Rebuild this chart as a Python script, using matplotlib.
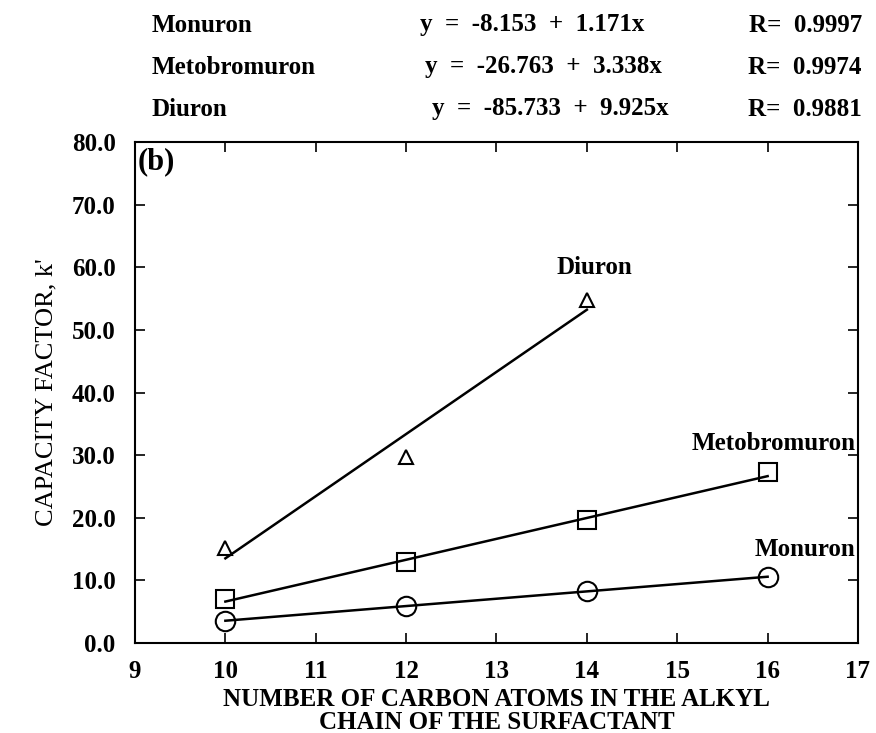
import matplotlib
matplotlib.use("Agg")
import matplotlib.pyplot as plt
import numpy as np

plt.rcParams['font.family'] = ['Liberation Serif', 'DejaVu Serif']

# ---- data ----
carbon_mon = [10, 12, 14, 16]
k_mon = [3.5, 5.9, 8.3, 10.5]
carbon_met = [10, 12, 14, 16]
k_met = [7.0, 12.9, 19.6, 27.3]
carbon_diu = [10, 12, 14]
k_diu = [15.1, 29.7, 54.7]

names = ["Monuron", "Metobromuron", "Diuron"]
intercepts = [-8.153, -26.763, -85.733]
slopes = [1.171, 3.338, 9.925]
r_values = ["0.9997", "0.9974", "0.9881"]
eq_texts = ["y  =  -8.153  +  1.171x", "y  =  -26.763  +  3.338x", "y  =  -85.733  +  9.925x"]

x_ticks = [9, 10, 11, 12, 13, 14, 15, 16, 17]
y_ticks = [0, 10, 20, 30, 40, 50, 60, 70, 80]

W, H = 876, 733
fig = plt.figure(figsize=(W/100, H/100), dpi=100)
ax = fig.add_axes([135/W, 1 - 643/H, (858-135)/W, (643-142)/H])

series = [(carbon_mon, k_mon, 'o', 14), (carbon_met, k_met, 's', 13), (carbon_diu, k_diu, '^', 10)]
for i, (xs, ys, mk, ms) in enumerate(series):
    xl = np.array([xs[0], xs[-1]], dtype=float)
    ax.plot(xl, intercepts[i] + slopes[i] * xl, color='black', lw=1.8, zorder=2)
    ax.plot(xs, ys, linestyle='none', marker=mk, ms=ms, mfc='none', mec='black', mew=1.5, zorder=3)

ax.set_xlim(9, 17)
ax.set_ylim(0, 80)
ax.set_xticks(x_ticks)
ax.set_yticks(y_ticks)
ax.set_xticklabels([str(v) for v in x_ticks], fontsize=18, fontweight='bold')
ax.set_yticklabels([f"{v:.1f}" for v in y_ticks], fontsize=18, fontweight='bold')
ax.tick_params(direction='in', length=7, width=1.2, top=True, right=True)
ax.tick_params(axis='y', pad=14)
ax.tick_params(axis='x', pad=12)
for s in ax.spines.values():
    s.set_linewidth(1.5)

ax.set_xlabel("NUMBER OF CARBON ATOMS IN THE ALKYL\nCHAIN OF THE SURFACTANT", fontsize=18,
              fontweight='bold', linespacing=1.0, labelpad=4)
ax.set_ylabel("CAPACITY FACTOR, k'", fontsize=19, labelpad=10)

ax.text(0.004, 0.99, "(b)", transform=ax.transAxes, fontsize=22, fontweight='bold', va='top', ha='left')
ax.text(14.08, 59.9, "Diuron", fontsize=18, fontweight='bold', ha='center', va='center')
ax.text(0.997, 31.8, "Metobromuron", transform=ax.get_yaxis_transform(), fontsize=18,
        fontweight='bold', ha='right', va='center')
ax.text(0.997, 15.0, "Monuron", transform=ax.get_yaxis_transform(), fontsize=18,
        fontweight='bold', ha='right', va='center')

header_y = [25, 67, 109]
eq_x = [420, 425, 432]
for i in range(3):
    yy = 1 - header_y[i] / H
    fig.text(152/W, yy, names[i], fontsize=18, fontweight='bold', ha='left', va='center')
    fig.text(eq_x[i]/W, yy, eq_texts[i], fontsize=18, fontweight='bold', ha='left', va='center')
    fig.text(862/W, yy, "R=  " + r_values[i], fontsize=18, fontweight='bold', ha='right', va='center')

fig.savefig("out.png", dpi=100)
